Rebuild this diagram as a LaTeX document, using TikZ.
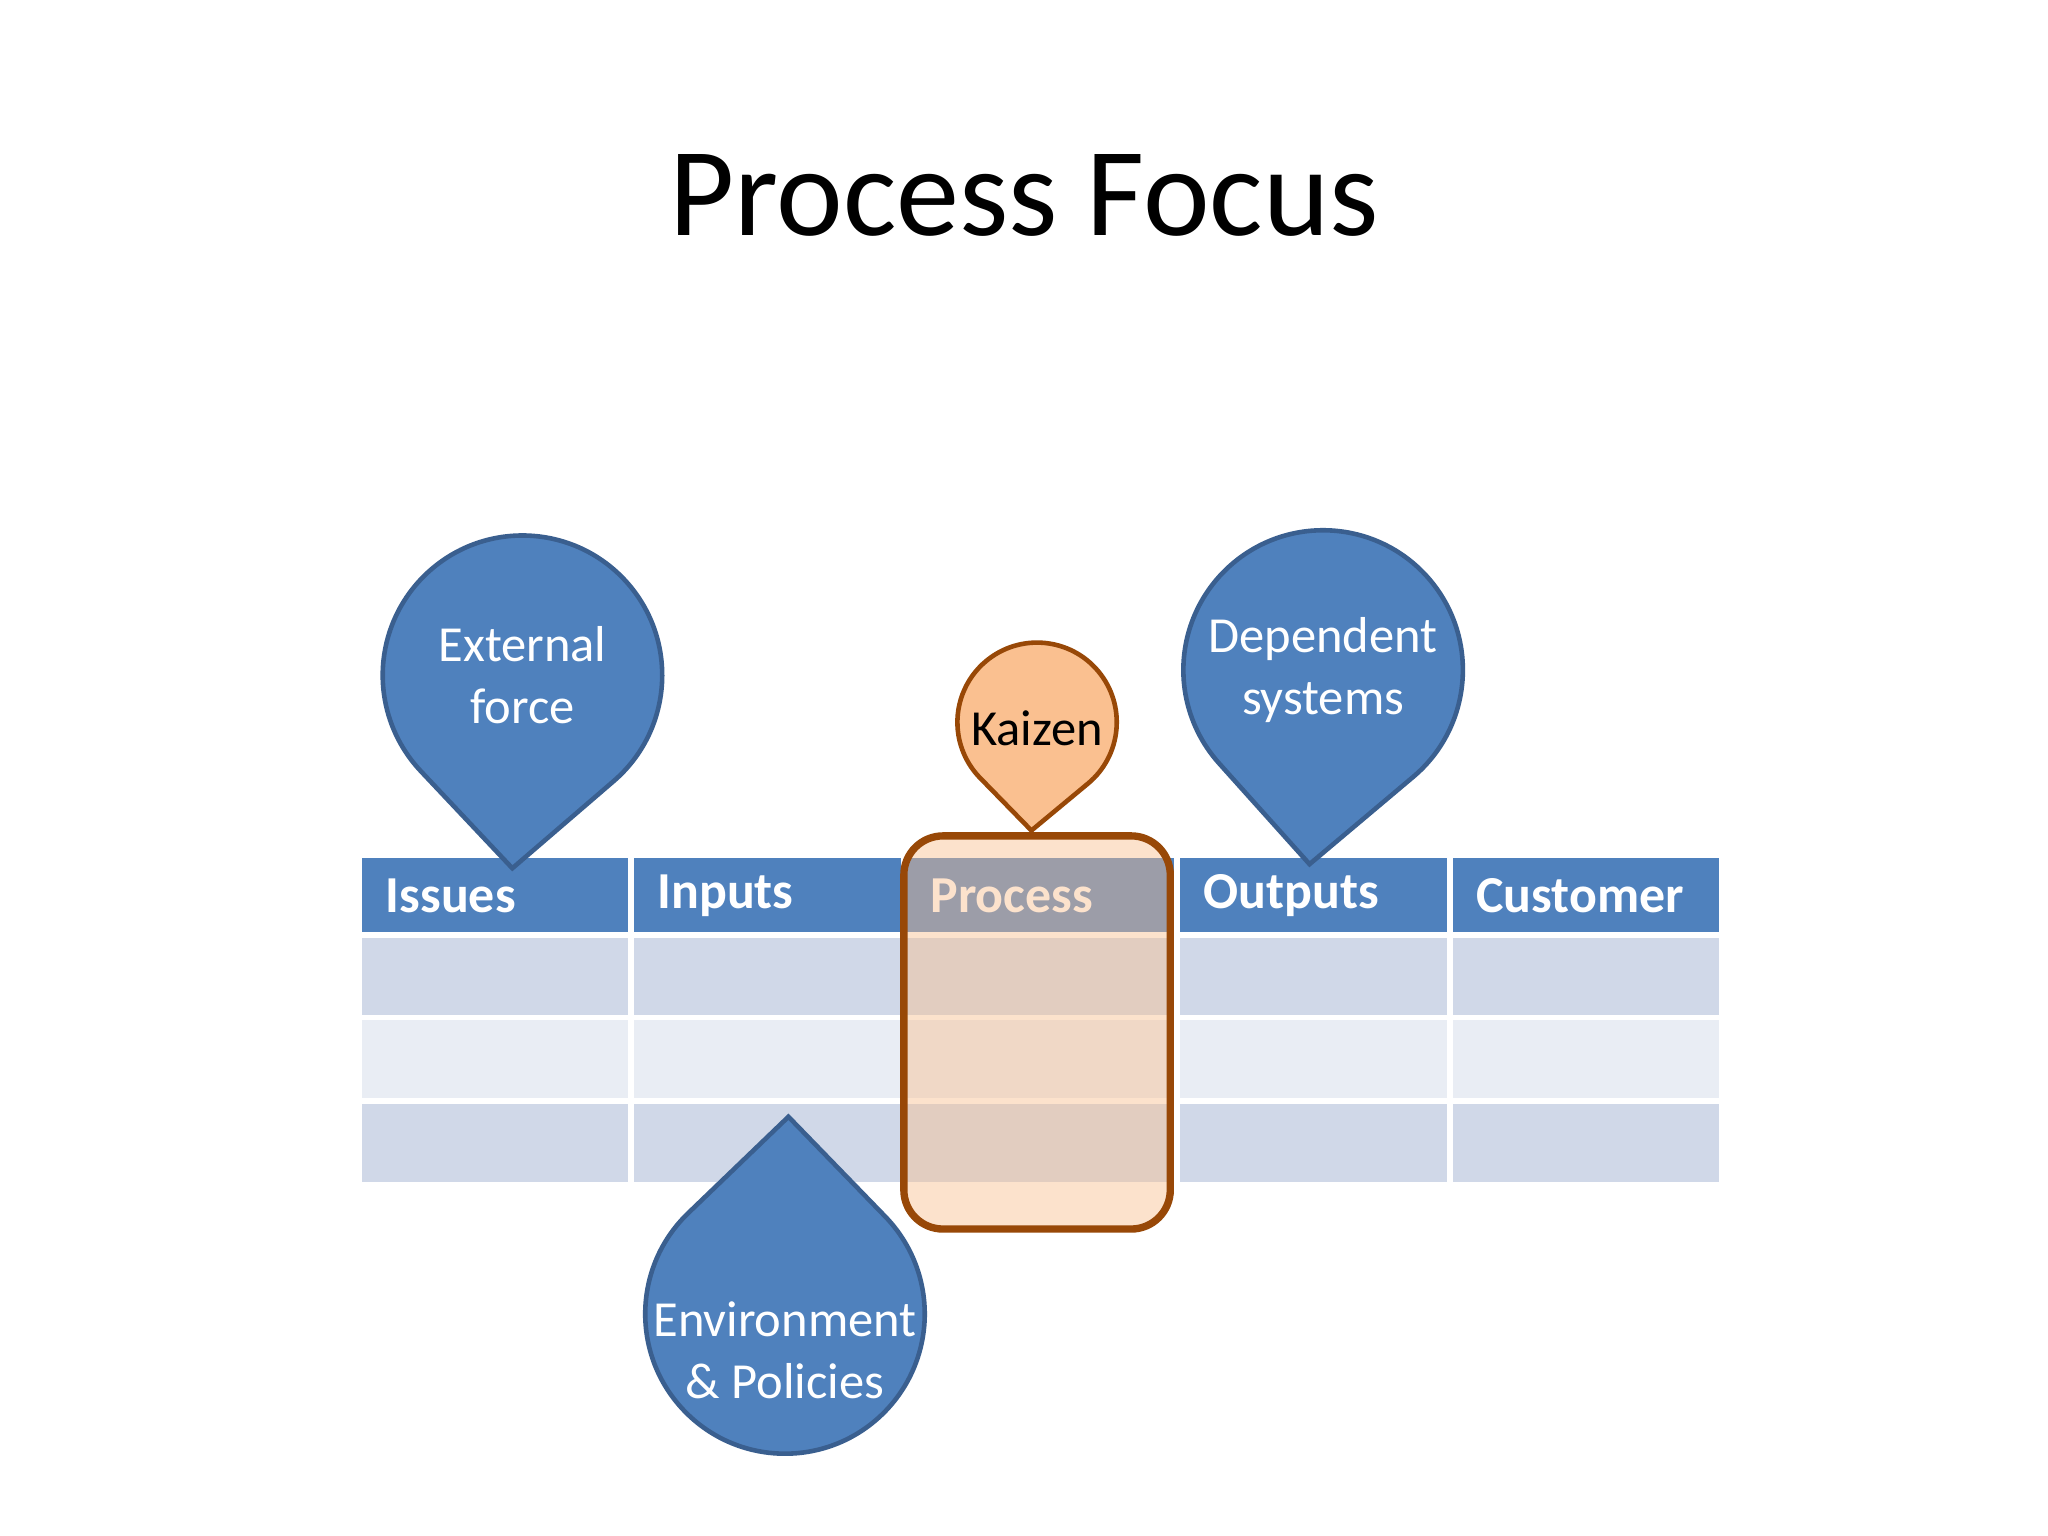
\documentclass[tikz,border=0pt]{standalone}
\usepackage{fontspec}
\setmainfont{Carlito}
\usetikzlibrary{calc}
\definecolor{hdr}{HTML}{4F81BD}
\definecolor{rowa}{HTML}{D0D8E8}
\definecolor{rowb}{HTML}{E9EDF4}
\definecolor{dropline}{HTML}{3A5F8F}
\definecolor{kfill}{HTML}{FAC090}
\definecolor{kline}{HTML}{984807}
\newcommand\teardrop[7]{% style, cx, cy, r, tip angle, d, name
  \path[#1] ($(#2,#3)+(#5:#6)$) coordinate (#7tip)
    -- ($(#2,#3)+({#5+acos(#4/#6)}:#4)$)
    arc[start angle={#5+acos(#4/#6)}, end angle={#5+360-acos(#4/#6)}, radius=#4]
    -- cycle;
  \coordinate (#7) at (#2,#3);}
\tikzset{
  hd/.style={fill=hdr, draw=white, line width=1.2pt},
  ra/.style={fill=rowa, draw=white, line width=1.2pt},
  rb/.style={fill=rowb, draw=white, line width=1.2pt},
  htxt/.style={anchor=west, text=white, font=\bfseries\fontsize{11.3}{13}\selectfont},
  blue drop/.style={fill=hdr, draw=dropline, line width=1pt},
  dtxt/.style={text=white, align=center, font=\fontsize{11}{13.5}\selectfont},
}
\begin{document}
\begin{tikzpicture}[x=1cm,y=1cm]
\useasboundingbox (0,0) rectangle (15.68,11.76);
\fill[white] (0,0) rectangle (15.68,11.76);
\node (title) at (7.84,10.26) {\fontsize{27.5}{32}\selectfont Process Focus};
% table
\foreach \i/\xa/\xb/\t in {1/2.75/4.83/Issues,2/4.83/6.92/Inputs,3/6.92/9.01/Process,4/9.01/11.10/Outputs,5/11.10/13.18/Customer}{
  \path[hd] (\xa,11.76-6.55) rectangle (\xb,11.76-7.16);
  \path[ra] (\xa,11.76-7.16) rectangle (\xb,11.76-7.79);
  \path[rb] (\xa,11.76-7.79) rectangle (\xb,11.76-8.43);
  \path[ra] (\xa,11.76-8.43) rectangle (\xb,11.76-9.07);
  \node[htxt] (h\i) at (\xa+0.08,11.76-6.86) {\t};
}
% drops
\teardrop{blue drop}{4.00}{11.76-5.17}{1.07}{-93}{1.48}{ef}
\node[dtxt] (eft) at (ef) {External\\ force};
\teardrop{blue drop}{10.13}{11.76-5.13}{1.07}{-94}{1.49}{ds}
\node[dtxt] (dst) at (ds) {Dependent\\ systems};
\teardrop{blue drop}{6.01}{11.76-10.06}{1.07}{89}{1.51}{env}
\node[dtxt] (envt) at ($(env)+(0,-0.28)$) {Environment\\ \& Policies};
\teardrop{fill=kfill, draw=kline, line width=1pt}{7.94}{11.76-5.53}{0.61}{-93}{0.83}{kz}
\node[font=\fontsize{11}{13.5}\selectfont] (kzt) at ($(kz)+(0,-0.05)$) {Kaizen};
% process highlight
\path[fill=kfill, fill opacity=0.45, draw=kline, draw opacity=1, line width=1.6pt, rounded corners=0.3cm]
  (6.92,11.76-6.40) rectangle (8.96,11.76-9.41);
\end{tikzpicture}
\end{document}
